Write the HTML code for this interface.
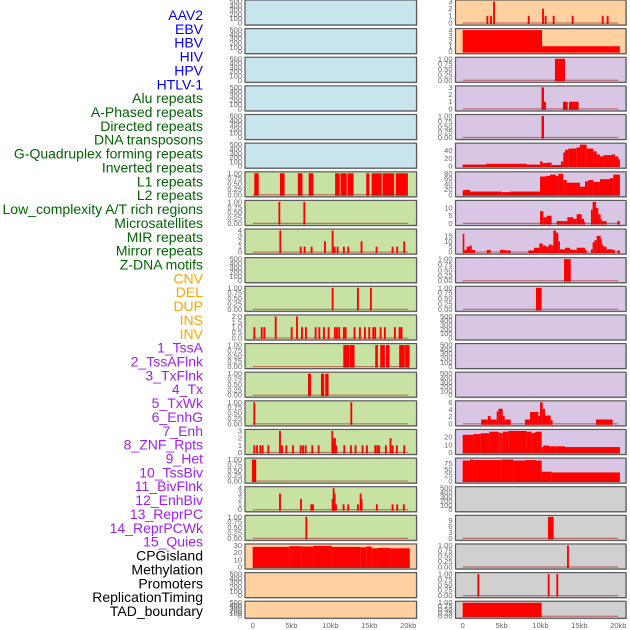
<!DOCTYPE html>
<html><head><meta charset="utf-8"><style>
html,body{margin:0;padding:0;background:#fff;}
svg{display:block;font-family:"Liberation Sans",sans-serif;}
</style></head><body>
<svg id="chart" width="630" height="630" viewBox="0 0 630 630" xmlns="http://www.w3.org/2000/svg"></svg>
<script>
// ---------- data (positions in kb, values) ----------
const trackLabels=["AAV2","EBV","HBV","HIV","HPV","HTLV-1","Alu repeats","A-Phased repeats","Directed repeats","DNA transposons","G-Quadruplex forming repeats","Inverted repeats","L1 repeats","L2 repeats","Low_complexity A/T rich regions","Microsatellites","MIR repeats","Mirror repeats","Z-DNA motifs","CNV","DEL","DUP","INS","INV","1_TssA","2_TssAFlnk","3_TxFlnk","4_Tx","5_TxWk","6_EnhG","7_Enh","8_ZNF_Rpts","9_Het","10_TssBiv","11_BivFlnk","12_EnhBiv","13_ReprPC","14_ReprPCWk","15_Quies","CPGisland","Methylation","Promoters","ReplicationTiming","TAD_boundary"];
const xTickVals=[0,5,10,15,20];
const xTickLabels=["0","5kb","10kb","15kb","20kb"];
const T500=["0","100","200","300","400","500"];
const T1=["0.00","0.25","0.50","0.75","1.00"];

const L6=[[0.2,0.77,1],[3.5,4.1,1],[5.8,6.4,1],[7.2,7.8,1],[10.6,11.2,1],[11.3,12.1,1],[12.2,12.97,1],[14.6,15.0,1],[15.3,16.6,1],[16.7,18.2,1],[18.4,19.96,1]];
const L7=[[3.43,1],[6.64,1]];
const L8=[[3.55,4],[6.17,1],[6.68,1],[7.58,1],[9.29,2],[10.28,4],[10.54,1],[10.92,1],[11.73,1],[12.29,1],[14.0,2],[15.93,1],[17.99,1],[18.59,1],[19.49,2]];
const L10=[[10.28,1],[13.53,1],[15.2,1]];
const L11=[[0.21,1],[1.16,1],[1.5,1],[2.96,2],[5.01,1],[5.7,2],[6.34,1],[6.85,1],[8.09,1],[8.57,1],[9.16,1],[9.76,1],[10.57,1],[10.84,1],[11.13,1],[11.73,1],[11.95,1],[13.1,1],[13.79,1],[14.43,1],[14.99,1],[15.5,1],[15.76,1],[16.45,1],[17.0,1],[18.29,1],[18.89,1],[19.14,1]];
const L12=[[11.65,12.39,1],[12.43,13.1,1],[15.76,16.1,1],[16.4,17.0,1],[17.13,17.6,1],[18.84,19.56,1],[19.6,20.17,1]];
const L13=[[7.11,7.5,1],[8.78,9.2,1],[9.33,9.76,1]];
const L14=[[0.21,1],[12.68,1]];
const L15=[[0.21,1],[0.56,1],[0.98,1],[1.28,1],[2.01,1],[3.51,3],[3.77,1],[4.33,1],[5.18,1],[6.17,1],[6.47,1],[6.81,1],[7.67,1],[8.48,1],[10.24,3],[10.41,2],[10.58,2],[10.75,1],[11.78,1],[12.63,1],[13.23,1],[14.13,1],[14.69,1],[15.76,1],[16.02,1],[16.27,1],[17.13,1],[17.73,2],[17.99,1],[18.54,1],[19.49,1]];
const L16=[[-0.1,0.45,1]];
const L17=[[3.51,3],[6.21,2],[7.54,1],[7.75,1],[10.28,2],[10.41,4],[10.54,3],[10.71,1],[11.69,1],[12.29,1],[13.53,1],[13.88,3],[14.0,2],[15.97,1],[17.99,1],[18.59,1],[19.44,1]];
const L18=[[6.9,1]];
const L19=[[0,4.7,28],[4.7,6.3,29],[6.3,7.8,28.5],[7.8,10.15,29.5],[10.15,13.9,28],[13.9,14.6,27.5],[14.6,15.3,28.5],[15.3,16.0,26],[16.0,17.7,26.5],[17.7,20.2,26]];

const R0=[[3.17,1],[3.64,1],[4.03,3],[8.48,1],[10.32,2],[10.66,1],[11.69,1],[14.13,1],[17.99,1],[18.63,1]];
const R1=[[0,10.2,4],[10.2,20.2,1]];
const R2=[[11.86,13.15,1]];
const R3=[[10.13,10.45,3],[10.45,10.71,1],[12.89,13.49,1],[13.66,14.9,1]];
const R4=[[10.13,10.45,1]];
const R5edges=[0,3.0,8.22,9.94,10.28,10.79,11.43,12.63,12.93,13.15,13.58,14.65,15.07,15.93,16.79,17.22,17.64,18.07,19.14,19.57,20.0,20.21];
const R5vals=[4,6,4,12,8,9,3,12,35,42,45,48,55,45,38,30,25,28,30,25,18];
const R6edges=[0,0.09,0.94,5.01,6.08,9.94,10.71,11.22,11.99,12.29,12.93,13.36,13.79,15.07,15.72,16.15,16.79,17.64,18.93,19.36,20.21];
const R6vals=[15,18,12,10,12,68,70,75,70,78,55,45,45,30,50,55,48,58,62,75];
const R7=[[9.94,10.36,8],[10.36,10.79,4],[10.79,11.43,5],[12.08,12.93,1.5],[12.93,13.45,1.5],[13.45,14.22,4],[14.22,14.65,3],[14.65,15.29,6],[15.29,15.59,3],[15.59,15.72,1],[16.49,16.7,9],[16.7,17.13,14],[17.13,17.43,10],[17.43,17.73,6],[17.73,17.86,3],[17.86,18.5,1.5],[19.87,20.21,1.5]];
const R8=[[0,0.21,17],[0.21,0.51,2],[0.51,0.86,5],[0.86,1.16,6],[1.16,1.58,2],[3.08,3.6,2],[4.8,5.44,2],[5.44,6.17,1.5],[8.43,9.16,1.5],[9.16,9.85,4],[9.85,10.28,8],[10.28,10.71,6],[10.71,11.05,5],[11.05,11.43,7],[11.43,11.65,6],[11.65,11.99,20],[11.99,12.29,18],[12.29,12.5,10],[12.5,13.15,2.5],[13.15,13.79,4],[13.79,14.13,2.5],[14.13,14.65,2],[14.65,15.72,4],[15.72,15.93,2],[16.49,16.7,2.5],[16.7,16.92,9],[16.92,17.22,11],[17.22,17.73,15],[17.73,17.86,12],[17.86,18.07,7],[18.07,18.5,5],[18.5,19.27,2.5],[19.27,19.57,2],[19.87,20.21,1.5]];
const R9=[[13.02,13.88,1]];
const R10=[[9.42,10.15,1]];
const R14=[[2.37,3.23,1.2],[3.23,3.58,2.2],[3.58,4.37,1.2],[4.37,4.58,3.5],[4.58,5.14,4.2],[5.14,5.4,2.2],[5.4,6.17,1.2],[8.01,8.65,1.2],[8.65,9.72,3.3],[9.72,9.94,2.2],[9.94,10.28,6],[10.28,10.58,4.2],[10.58,11.31,2.3],[11.31,11.56,1],[17.13,19.27,1.2]];
const R15edges=[0,1.37,2.31,3.43,4.58,4.88,5.14,5.87,8.22,8.87,9.16,9.42,10.15,10.36,11.13,12.08,13.15,20.21];
const R15vals=[23,24,25,27,26,25,27,28,27,25,26,27,7,9,8,8,7];
const R16edges=[0,0.94,1.37,5.01,6.51,8.01,9.42,10.15,11.43,20.21];
const R16vals=[88,92,90,92,88,90,88,40,37];
const R18=[[10.96,11.69,11]];
const R19=[[13.53,1]];
const R20=[[2.01,1],[11.05,1],[12.16,1]];
const R21=[[0,10.15,1]];

// ---------- layout ----------
const BLUE="#c8e4ec",GREEN="#c8e2a4",PEACH="#ffd0a0",PURPLE="#d8c6e4",GRAY="#d0d0d0";
function steps(e,v){const s=[];for(let i=0;i<v.length;i++)s.push([e[i],e[i+1],v[i]]);return s;}
function spk(a){return a.map(p=>[p[0]-0.12,p[0]+0.12,p[1]]);}
const leftDefs=[
 [BLUE,T500,null],[BLUE,T500,null],[BLUE,T500,null],[BLUE,T500,null],[BLUE,T500,null],[BLUE,T500,null],
 [GREEN,T1,L6],[GREEN,T1,spk(L7)],[GREEN,["0","1","2","3","4"],spk(L8)],[GREEN,T500,null],
 [GREEN,T1,spk(L10)],[GREEN,["0.0","0.5","1.0","1.5","2.0"],spk(L11)],[GREEN,T1,L12],[GREEN,T1,L13],
 [GREEN,T1,spk(L14)],[GREEN,["0","1","2","3"],spk(L15)],[GREEN,T1,L16],[GREEN,["0","1","2","3","4"],spk(L17)],
 [GREEN,T1,spk(L18)],[PEACH,["0","10","20","30"],L19],[PEACH,T500,null],[PEACH,T500,null]];
const rightDefs=[
 [PEACH,["0","1","2","3"],spk(R0)],[PEACH,["0","1","2","3","4"],R1],[PURPLE,T1,R2],[PURPLE,["0","1","2","3"],R3],
 [PURPLE,T1,R4],[PURPLE,["0","20","40"],steps(R5edges,R5vals)],[PURPLE,["0","20","40","60","80"],steps(R6edges,R6vals)],
 [PURPLE,["0","5","10"],R7],[PURPLE,["0","5","10","15"],R8],[PURPLE,T1,R9],[PURPLE,T1,R10],
 [PURPLE,T500,null],[PURPLE,T500,null],[PURPLE,T500,null],[PURPLE,["0","2","4","6"],R14],
 [PURPLE,["0","10","20"],steps(R15edges,R15vals)],[PURPLE,["0","25","50","75"],steps(R16edges,R16vals)],
 [GRAY,T500,null],[GRAY,["0","3","6","9"],R18],[GRAY,T1,spk(R19)],[GRAY,T1,spk(R20)],[GRAY,T1,R21]];

const NS="http://www.w3.org/2000/svg";
const svg=document.getElementById("chart");
function mk(tag,attrs,parent){const e=document.createElementNS(NS,tag);for(const k in attrs)e.setAttribute(k,attrs[k]);(parent||svg).appendChild(e);return e;}

const labelColor=i=>i<6?"#0000ee":i<19?"#006400":i<24?"#ffa500":i<39?"#a020f0":"#000";
trackLabels.forEach((t,i)=>{
  const el=mk("text",{x:203,y:15+i*13.86+5,"text-anchor":"end","font-size":"14",fill:labelColor(i)});
  el.textContent=t;
  
  
});

function drawPanel(def,col,row){
  const [bg,ticks,data]=def;
  const px=col===0?245:455.5, pw=col===0?171.5:170.5;
  const top=row*28.63, h=row===21?17:25;
  const x0=col===0?252.7:462.7, xs=(col===0?155.5:155.6)/20;
  const xf=kb=>x0+kb*xs;
  const g=mk("g",{});
  
  
  mk("rect",{x:px+1,y:top+1,width:pw,height:h,fill:"#bbb"},g);
  mk("rect",{x:px,y:top,width:pw,height:h,fill:bg},g);
  const tv=ticks.map(parseFloat);
  let ymax=tv[tv.length-1];
  if(data){data.forEach(d=>{if(d[2]>ymax)ymax=d[2];});}
  const yb=top+h-2, yt=top+1.5;
  const yf=v=>yb-(v/ymax)*(yb-yt);
  ticks.forEach((t,i)=>{
    const el=mk("text",{x:px-3,y:yf(tv[i])+2.5,"text-anchor":"end","font-size":"7.5",fill:"#666"},g);
    el.textContent=t;
    
    
  });
  if(data){
    data.forEach(d=>{
      const a=xf(Math.max(d[0],-0.15)),b=xf(d[1]);
      const r=mk("rect",{x:a,y:yf(d[2]),width:Math.max(b-a,1.2),height:yb-yf(d[2])+1,fill:"#ff0000"},g);
      
      
    });
    mk("line",{x1:xf(0),x2:xf(20),y1:yb,y2:yb,stroke:"rgba(170,30,30,0.55)","stroke-width":1.2},g);
  }
  mk("rect",{x:px,y:top,width:pw,height:h,fill:"none",stroke:"#5a5a5a","stroke-width":1.2},g);
  if(row===21){
    xTickVals.forEach((v,i)=>{
      const el=mk("text",{x:xf(v),y:628,"text-anchor":"middle","font-size":"7.5",fill:"#666"},g);
      el.textContent=xTickLabels[i];
      
      
    });
  }
}
leftDefs.forEach((d,i)=>drawPanel(d,0,i));
rightDefs.forEach((d,i)=>drawPanel(d,1,i));
</script>
</body></html>
